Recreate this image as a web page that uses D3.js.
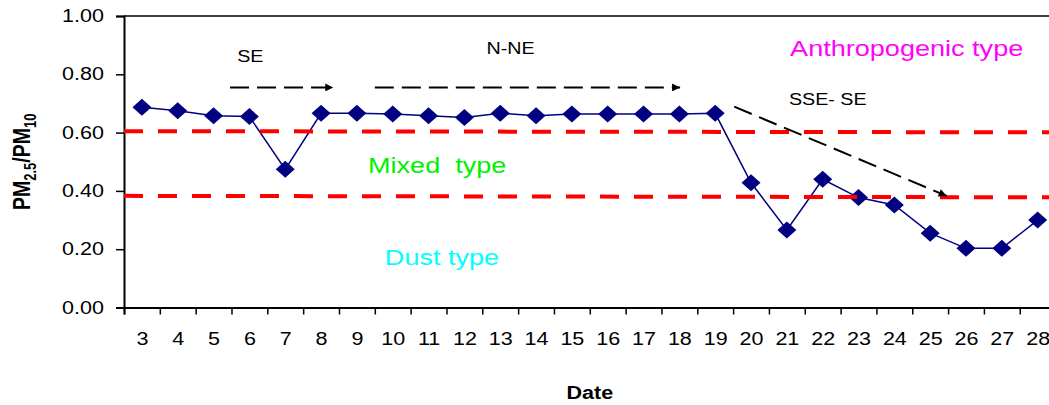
<!DOCTYPE html>
<html>
<head>
<meta charset="utf-8">
<script src="https://cdn.jsdelivr.net/npm/d3@7"></script>
<style>
  body { margin: 0; background: #fff; }
  svg { display: block; font-family: "Liberation Sans", Arial, sans-serif; }
</style>
</head>
<body>
<div id="chart"></div>
<script>
// ── PM2.5/PM10 ratio by date, with type thresholds and wind annotations ──
const days  = [3, 4, 5, 6, 7, 8, 9, 10, 11, 12, 13, 14, 15, 16, 17, 18, 19, 20, 21, 22, 23, 24, 25, 26, 27, 28];
const ratio = [0.687, 0.675, 0.658, 0.655, 0.474, 0.666, 0.666, 0.664, 0.658, 0.652, 0.666, 0.658, 0.664,
               0.664, 0.664, 0.664, 0.666, 0.428, 0.266, 0.440, 0.377, 0.352, 0.255, 0.203, 0.203, 0.300];
const yTicks = [0, 0.2, 0.4, 0.6, 0.8, 1.0];
// threshold lines: value at left edge, value at right edge
const upperLimit = [0.605, 0.601];
const lowerLimit = [0.383, 0.378];
const windLabels = ["SE", "N-NE", "SSE- SE"];
const typeLabels = ["Anthropogenic type", "Mixed  type", "Dust type"];
const typeColors = ["#ff00ff", "#00f000", "#00ffff"];

const width = 1049, height = 405;
const margin = { top: 16, left: 124 };
const band = 35.83;
const innerW = band * days.length;
const innerH = 291.5;
const SX = 1.23; // text in the original is drawn wider than normal

const svg = d3.select("#chart").append("svg")
    .attr("width", width).attr("height", height);

svg.append("defs").append("marker")
    .attr("id", "arrow").attr("viewBox", "0 0 10 10")
    .attr("refX", 10).attr("refY", 5)
    .attr("markerWidth", 9).attr("markerHeight", 8)
    .attr("markerUnits", "userSpaceOnUse").attr("orient", "auto")
  .append("path").attr("d", "M0,0L10,5L0,10Z").attr("fill", "#000");

const g = svg.append("g").attr("transform", `translate(${margin.left},${margin.top})`);

const x = d3.scaleLinear()
    .domain([days[0] - 0.5, days[days.length - 1] + 0.5]).range([0, innerW]);
const y = d3.scaleLinear().domain([0, 1]).range([innerH, 0]);

function widen(sel) {
    sel.each(function () {
        const t = d3.select(this);
        const tx = +t.attr("x") || 0;
        t.attr("x", 0).attr("transform", `translate(${tx},0) scale(${SX},1)`);
    });
}
function label(px, py, str) {
    return g.append("text")
        .attr("transform", `translate(${px},${py}) scale(${SX},1)`)
        .style("white-space", "pre")
        .text(str);
}

// top frame line
g.append("line").attr("x1", 0).attr("x2", innerW).attr("y1", 0).attr("y2", 0)
    .attr("stroke", "#000").attr("stroke-width", 1.5);

// y axis
const ya = g.append("g")
    .call(d3.axisLeft(y).tickValues(yTicks).tickFormat(d3.format(".2f")).tickSize(8).tickPadding(12));
ya.select(".domain").attr("stroke-width", 2);
ya.selectAll("line").attr("stroke-width", 1.5);
ya.selectAll("text").style("font-size", "17.5px").attr("fill", "#000")
    .attr("font-family", "Liberation Sans, Arial, sans-serif");
widen(ya.selectAll("text"));

// x axis: ticks on the category edges, labels in the middle
const xt = g.append("g").attr("transform", `translate(0,${innerH})`)
    .call(d3.axisBottom(x).tickValues(days.map(d => d - 0.5)).tickFormat("").tickSize(7));
xt.select(".domain").attr("stroke-width", 2);
xt.selectAll("line").attr("stroke-width", 1.5);
const xl = g.append("g").attr("transform", `translate(0,${innerH})`)
    .call(d3.axisBottom(x).tickValues(days).tickFormat(d3.format("d")).tickSize(0).tickPadding(25));
xl.select(".domain").remove();
xl.selectAll("text").style("font-size", "17.5px").attr("fill", "#000")
    .attr("font-family", "Liberation Sans, Arial, sans-serif");
widen(xl.selectAll("text"));

// series
const pts = days.map((d, i) => ({ day: d, v: ratio[i] }));
g.append("path").datum(pts)
    .attr("fill", "none").attr("stroke", "#000080").attr("stroke-width", 1.5)
    .attr("d", d3.line().x(d => x(d.day)).y(d => y(d.v)));
g.selectAll("path.pt").data(pts).join("path").attr("class", "pt")
    .attr("transform", d => `translate(${x(d.day)},${y(d.v)})`)
    .attr("d", "M0,-8.5L9.5,0L0,8.5L-9.5,0Z")
    .attr("fill", "#000080");

// threshold lines
[upperLimit, lowerLimit].forEach(lim => {
    g.append("line")
        .attr("x1", 0).attr("x2", width - margin.left)
        .attr("y1", y(lim[0])).attr("y2", y(lim[1]))
        .attr("stroke", "#ff0000").attr("stroke-width", 4)
        .attr("stroke-dasharray", "19,15");
});

// wind direction arrows (day, ratio)
const arrows = [
    [[5.46, 0.755], [8.34, 0.755]],
    [[9.50, 0.755], [18.02, 0.755]],
    [[19.53, 0.689], [25.46, 0.3825]]
];
arrows.forEach(a => {
    g.append("line")
        .attr("x1", x(a[0][0])).attr("y1", y(a[0][1]))
        .attr("x2", x(a[1][0])).attr("y2", y(a[1][1]))
        .attr("stroke", "#000").attr("stroke-width", 2)
        .attr("stroke-dasharray", "19,8")
        .attr("marker-end", "url(#arrow)");
});

// wind labels
const windPos = [[5.66, 0.843], [12.62, 0.870], [21.06, 0.695]];
windLabels.forEach((t, i) => {
    label(x(windPos[i][0]), y(windPos[i][1]), t).style("font-size", "16px").attr("fill", "#000");
});

// type labels
const typePos = [[21.09, 0.863], [9.31, 0.461], [9.78, 0.146]];
typeLabels.forEach((t, i) => {
    label(x(typePos[i][0]), y(typePos[i][1]), t).style("font-size", "22px").attr("fill", typeColors[i]);
});

// axis titles
label(innerW / 2, innerH + 91.5, "Date")
    .attr("text-anchor", "middle").style("font-size", "17.5px").style("font-weight", "bold");

const yt = svg.append("text")
    .attr("transform", `translate(30,${margin.top + innerH / 2}) scale(${SX},1) rotate(-90)`)
    .attr("text-anchor", "middle").style("font-size", "19.5px").style("font-weight", "bold");
yt.append("tspan").text("PM");
yt.append("tspan").attr("dy", 5).style("font-size", "13px").text("2.5");
yt.append("tspan").attr("dy", -5).text("/PM");
yt.append("tspan").attr("dy", 5).style("font-size", "13px").text("10");
</script>
</body>
</html>
